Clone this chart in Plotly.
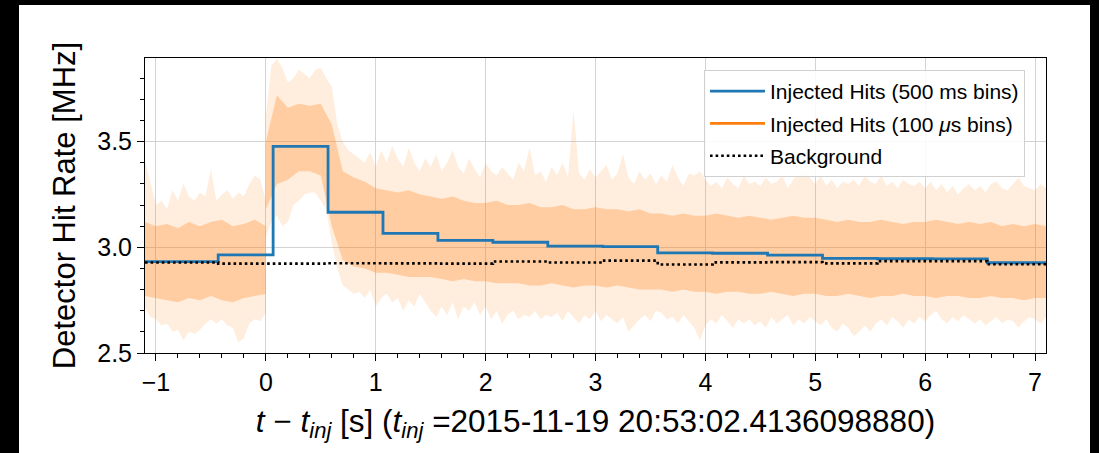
import numpy as np
import plotly.graph_objects as go

# ---------------- data ----------------
# 500 ms bins (step function): bin edges and values [MHz]
BIN_EDGES = [-1.1, -0.434, 0.066, 0.566, 1.066, 1.566, 2.066, 2.566, 3.066,
             3.566, 4.066, 4.566, 5.066, 5.566, 6.066, 6.566, 7.1]
INJ_500MS = [2.932, 2.964, 3.478, 3.166, 3.066, 3.033, 3.024, 3.006, 3.003,
             2.974, 2.972, 2.963, 2.948, 2.946, 2.945, 2.927]
BACKGROUND = [2.928, 2.923, 2.923, 2.925, 2.924, 2.923, 2.933, 2.928, 2.937,
              2.919, 2.929, 2.930, 2.924, 2.935, 2.935, 2.920]

# 100 us bins: envelope of the noisy trace read at 0.05 s (outer spikes)
PRE_HI = [3.41, 3.30, 3.20, 3.22, 3.18, 3.27, 3.22, 3.30, 3.24, 3.22, 3.26, 3.24,
          3.37, 3.22, 3.25, 3.27, 3.23, 3.26, 3.24, 3.30, 3.34, 3.32, 3.22]
PRE_LO = [2.71, 2.67, 2.66, 2.63, 2.64, 2.60, 2.61, 2.56, 2.60, 2.59, 2.61, 2.64,
          2.66, 2.64, 2.66, 2.63, 2.62, 2.55, 2.57, 2.64, 2.66, 2.65, 2.69]
POST_HI = [3.62, 3.86, 3.89, 3.85, 3.78, 3.80, 3.84, 3.82, 3.80, 3.84,
           3.85, 3.80, 3.76, 3.58, 3.50, 3.46, 3.44, 3.42, 3.40, 3.45,
           3.38, 3.46, 3.40, 3.48, 3.42, 3.38, 3.47, 3.40, 3.36, 3.42,
           3.38, 3.44, 3.36, 3.40, 3.46, 3.38, 3.35, 3.42, 3.37, 3.33,
           3.40, 3.36, 3.34, 3.38, 3.35, 3.32, 3.40, 3.36, 3.47, 3.34,
           3.36, 3.31, 3.38, 3.34, 3.40, 3.33, 3.65, 3.35, 3.32, 3.37,
           3.33, 3.36, 3.39, 3.32, 3.35, 3.44, 3.33, 3.30, 3.36, 3.32,
           3.35, 3.30, 3.34, 3.31, 3.39, 3.33, 3.29, 3.35, 3.34, 3.36,
           3.32, 3.29, 3.31, 3.28, 3.33, 3.30, 3.28, 3.34, 3.30, 3.31,
           3.29, 3.33, 3.30, 3.31, 3.34, 3.28, 3.32, 3.35, 3.36, 3.33,
           3.30, 3.34, 3.29, 3.32, 3.28, 3.31, 3.30, 3.32, 3.29, 3.34,
           3.31, 3.30, 3.34, 3.29, 3.31, 3.28, 3.32, 3.30, 3.29, 3.31,
           3.28, 3.31, 3.27, 3.30, 3.26, 3.29, 3.25, 3.28, 3.30, 3.27,
           3.29, 3.26, 3.30, 3.31, 3.28, 3.27, 3.30, 3.33, 3.29, 3.28,
           3.27, 3.30, 3.28]
POST_LO = [3.05, 3.12, 3.15, 3.10, 3.12, 3.20, 3.22, 3.25, 3.26, 3.26,
           3.22, 3.18, 3.02, 2.90, 2.82, 2.80, 2.78, 2.79, 2.76, 2.80,
           2.72, 2.76, 2.78, 2.74, 2.76, 2.70, 2.75, 2.72, 2.78, 2.74,
           2.70, 2.67, 2.72, 2.68, 2.74, 2.66, 2.72, 2.70, 2.74, 2.68,
           2.72, 2.66, 2.70, 2.64, 2.68, 2.70, 2.66, 2.68, 2.67, 2.70,
           2.66, 2.68, 2.67, 2.69, 2.65, 2.70, 2.67, 2.64, 2.68, 2.66,
           2.70, 2.65, 2.68, 2.66, 2.64, 2.67, 2.60, 2.63, 2.66, 2.68,
           2.65, 2.70, 2.69, 2.66, 2.67, 2.64, 2.68, 2.65, 2.62, 2.56,
           2.63, 2.66, 2.64, 2.68, 2.65, 2.62, 2.66, 2.64, 2.66, 2.63,
           2.65, 2.62, 2.67, 2.64, 2.66, 2.68, 2.63, 2.66, 2.64, 2.67,
           2.65, 2.63, 2.66, 2.62, 2.60, 2.64, 2.62, 2.58, 2.60, 2.63,
           2.60, 2.64, 2.66, 2.63, 2.67, 2.65, 2.62, 2.66, 2.64, 2.67,
           2.65, 2.68, 2.70, 2.66, 2.64, 2.67, 2.65, 2.68, 2.66, 2.64,
           2.66, 2.63, 2.65, 2.67, 2.64, 2.66, 2.65, 2.62, 2.65, 2.67,
           2.66, 2.64, 2.67]

# dense core of the noisy trace read at 0.1 s
PRE_CU = [3.12, 3.10, 3.11, 3.09, 3.12, 3.10, 3.12, 3.13, 3.10, 3.11, 3.13, 3.10]
PRE_CL = [2.77, 2.76, 2.75, 2.74, 2.76, 2.75, 2.77, 2.75, 2.74, 2.76, 2.77, 2.78]
POST_CU = [3.50, 3.72, 3.66, 3.68, 3.67, 3.68, 3.58, 3.36, 3.33, 3.31,
           3.28, 3.27, 3.26, 3.27, 3.25, 3.24, 3.23, 3.24, 3.22, 3.21,
           3.21, 3.22, 3.20, 3.20, 3.21, 3.19, 3.19, 3.20, 3.18, 3.18,
           3.19, 3.18, 3.18, 3.17, 3.18, 3.16, 3.16, 3.15, 3.16, 3.15,
           3.15, 3.16, 3.15, 3.14, 3.15, 3.14, 3.13, 3.14, 3.15, 3.14,
           3.14, 3.13, 3.12, 3.13, 3.12, 3.12, 3.13, 3.12, 3.11, 3.12,
           3.12, 3.13, 3.12, 3.11, 3.12, 3.11, 3.12, 3.10, 3.11, 3.10, 3.11, 3.10]
POST_CL = [3.18, 3.30, 3.32, 3.36, 3.36, 3.34, 3.10, 2.94, 2.91, 2.90,
           2.88, 2.88, 2.87, 2.86, 2.86, 2.86, 2.85, 2.84, 2.85, 2.84,
           2.84, 2.83, 2.83, 2.83, 2.82, 2.82, 2.83, 2.82, 2.81, 2.82,
           2.82, 2.81, 2.82, 2.81, 2.80, 2.80, 2.80, 2.79, 2.80, 2.79,
           2.79, 2.78, 2.79, 2.79, 2.78, 2.78, 2.79, 2.78, 2.77, 2.78,
           2.78, 2.77, 2.77, 2.78, 2.77, 2.76, 2.77, 2.77, 2.78, 2.77,
           2.77, 2.76, 2.77, 2.77, 2.76, 2.76, 2.77, 2.76, 2.76, 2.75, 2.76, 2.76]

LABEL_500 = "Injected Hits (500 ms bins)"
LABEL_100 = "Injected Hits (100 <i>μ</i>s bins)"
LABEL_BKG = "Background"
X_TITLE = ("<i>t</i> − <i>t<sub>inj</sub></i> [s] (<i>t<sub>inj</sub></i> "
           "=2015-11-19 20:53:02.4136098880)")
Y_TITLE = "Detector Hit Rate [MHz]"

# ---------------- sample grids ----------------
t_pre_o = np.round(np.linspace(-1.1, 0.0, len(PRE_HI)), 3)
t_post_o = np.round(np.linspace(0.0, 7.1, len(POST_HI)), 3)
t_pre_c = np.round(np.linspace(-1.1, 0.0, len(PRE_CU)), 3)
t_post_c = np.round(np.linspace(0.0, 7.1, len(POST_CU)), 3)

t_o = list(t_pre_o) + list(t_post_o)
hi_o = PRE_HI + POST_HI
lo_o = PRE_LO + POST_LO
t_c = list(t_pre_c) + list(t_post_c)
hi_c = PRE_CU + POST_CU
lo_c = PRE_CL + POST_CL

BLUE = "#1f77b4"
ORANGE = "#ff7f0e"
FONT = "Liberation Sans"

fig = go.Figure()

# noisy 100 us trace, drawn as its envelope (outer spikes + dense core)
fig.add_trace(go.Scatter(
    x=t_o + t_o[::-1], y=hi_o + lo_o[::-1], fill="toself",
    fillcolor="rgba(255,127,14,0.14)", mode="lines",
    line=dict(width=0), hoverinfo="skip", showlegend=False))
fig.add_trace(go.Scatter(
    x=t_c + t_c[::-1], y=hi_c + lo_c[::-1], fill="toself",
    fillcolor="rgba(255,127,14,0.29)", mode="lines",
    line=dict(width=0), hoverinfo="skip", showlegend=False))

# step lines
fig.add_trace(go.Scatter(
    x=BIN_EDGES, y=INJ_500MS + [INJ_500MS[-1]], mode="lines",
    line=dict(color=BLUE, width=2.8, shape="hv"),
    name=LABEL_500, legendgroup="a", legendrank=1))
fig.add_trace(go.Scatter(
    x=[None], y=[None], mode="lines",
    line=dict(color=ORANGE, width=2.8),
    name=LABEL_100, legendgroup="b", legendrank=2))
fig.add_trace(go.Scatter(
    x=BIN_EDGES, y=BACKGROUND + [BACKGROUND[-1]], mode="lines",
    line=dict(color="black", width=2.6, shape="hv", dash="2.6px,3px"),
    name=LABEL_BKG, legendgroup="c", legendrank=3))

W, H = 1099, 453
L, R, T, B = 145, 53, 58, 100
pw, ph = W - L - R, H - T - B

fig.add_shape(type="rect", xref="paper", yref="paper", layer="below",
              x0=(19 - L) / pw, x1=(1090 - L) / pw,
              y0=(H - B - 460) / ph, y1=(H - B - 5) / ph,
              fillcolor="white", line=dict(width=0))

axis_common = dict(
    showline=True, linecolor="black", linewidth=1, mirror=True,
    ticks="outside", ticklen=7, tickwidth=1, tickcolor="black",
    showgrid=True, gridcolor="#d3d3d3", gridwidth=1, zeroline=False,
    tickfont=dict(family=FONT, size=25, color="black"),
)

fig.update_layout(
    width=W, height=H, autosize=False,
    margin=dict(l=L, r=R, t=T, b=B, pad=0),
    paper_bgcolor="black", plot_bgcolor="white",
    font=dict(family=FONT, color="black"),
    xaxis=dict(range=[-1.1, 7.1], dtick=1, tick0=0,
               minor=dict(ticks="outside", dtick=0.2, tick0=0, ticklen=4,
                          tickcolor="black", showgrid=False),
               title=dict(text=X_TITLE, font=dict(family=FONT, size=31.5),
                          standoff=14),
               **axis_common),
    yaxis=dict(range=[2.5, 3.896], dtick=0.5, tick0=2.5, tickformat=".1f",
               minor=dict(ticks="outside", dtick=0.1, tick0=2.5, ticklen=4,
                          tickcolor="black", showgrid=False),
               title=dict(text=Y_TITLE, font=dict(family=FONT, size=31),
                          standoff=12),
               **axis_common),
    legend=dict(x=(1025 - L) / pw, xanchor="right", y=(H - B - 70) / ph,
                yanchor="top", bgcolor="rgba(255,255,255,0.85)",
                bordercolor="#d0d0d0", borderwidth=1,
                font=dict(family=FONT, size=21, color="black"),
                traceorder="grouped", tracegroupgap=2, itemwidth=55),
    showlegend=True,
)

fig.write_html(
    "out.html",
    config={"displayModeBar": False},
    post_script="document.body.style.margin='0px';"
                "document.body.style.background='black';"
                "document.body.style.overflow='hidden';",
)
